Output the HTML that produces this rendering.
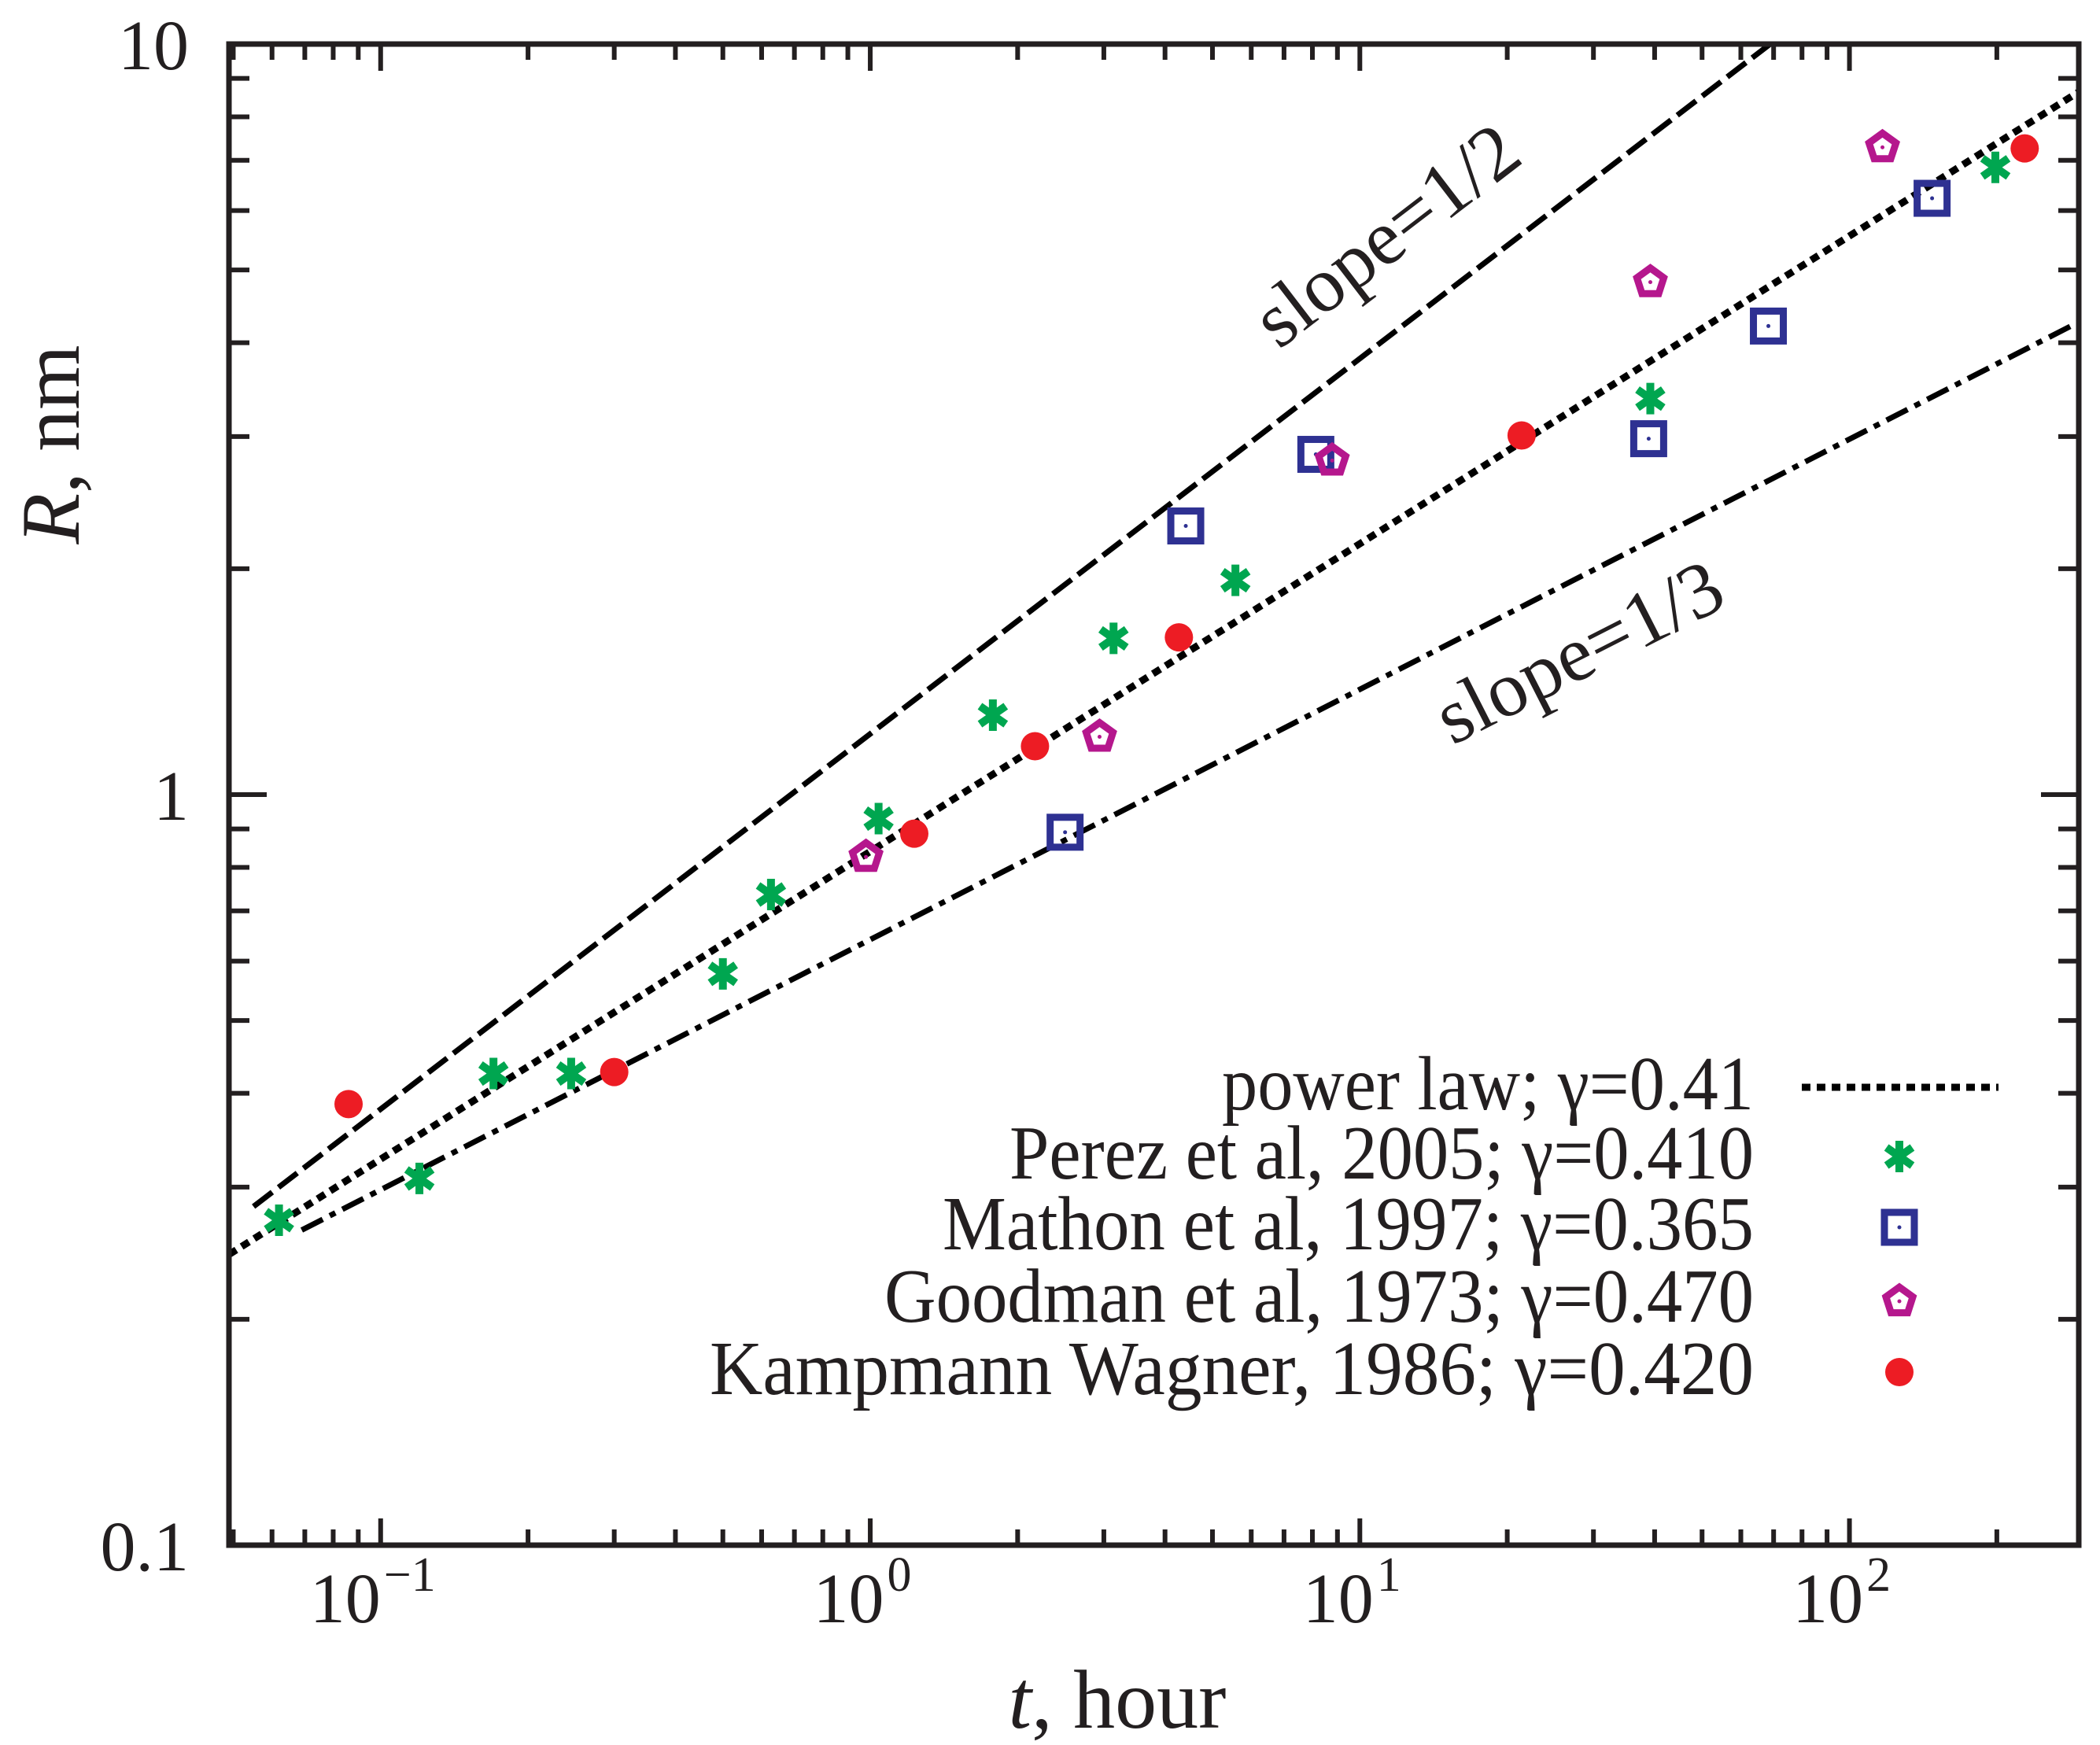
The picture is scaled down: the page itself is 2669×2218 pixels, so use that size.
<!DOCTYPE html>
<html><head><meta charset="utf-8"><style>
html,body{margin:0;padding:0;background:#fff}
svg{display:block}
text{font-family:"Liberation Serif",serif;fill:#231f20}
</style></head><body>
<svg id="chart" width="2669" height="2218" viewBox="0 0 2669 2218" xmlns="http://www.w3.org/2000/svg">
<g id="marks"></g>
<g id="axes"></g>
</svg>
<script>
// data
const perezT = [0.062,0.12,0.17,0.245,0.50,0.627,1.04,1.78,3.14,5.57,39.2,198.6];
const perezR = [0.271,0.308,0.425,0.425,0.577,0.736,0.929,1.276,1.615,1.93,3.37,6.85];
const mathonT = [2.5,4.41,8.13,38.9,68.3,147.5];
const mathonR = [0.891,2.28,2.84,2.98,4.21,6.23];
const goodT = [0.98,2.94,8.78,39.2,116.8];
const goodR = [0.83,1.20,2.80,4.84,7.32];
const kampT = [0.086,0.30,1.23,2.17,4.27,21.4,228];
const kampR = [0.387,0.427,0.887,1.16,1.62,3.01,7.26];
const powerLaw = [0.84,0.41];   // R at t=1, exponent
const slopeHalf = [1.205,0.5];
const slopeThird = [0.641,1/3];
const xTickExps = ["\u22121","0","1","2"];
const yTickLabels = ["0.1","1","10"];
const legendLabels = ["power law;  \u03b3=0.41","Perez et al, 2005;  \u03b3=0.410","Mathon et al, 1997; \u03b3=0.365","Goodman et al, 1973; \u03b3=0.470","Kampmann  Wagner, 1986;  \u03b3=0.420"];

const NS="http://www.w3.org/2000/svg";
const L=291,R=2642,T=56,B=1964;
const xmin=Math.log10(0.049),xmax=Math.log10(294);
const X=t=>L+(Math.log10(t)-xmin)/(xmax-xmin)*(R-L);
const Y=r=>B-(Math.log10(r)+1)/2*(B-T);
const marks=document.getElementById('marks'),axes=document.getElementById('axes');
function mk(tag,attrs,parent){const e=document.createElementNS(NS,tag);for(const k in attrs)e.setAttribute(k,attrs[k]);(parent||marks).appendChild(e);return e;}

const defs=mk('defs',{},document.getElementById('chart'));
const cp=mk('clipPath',{id:'clip'},defs);mk('rect',{x:L,y:T,width:R-L,height:B-T},cp);

function fitLine(p,t0,t1,dash,w,name){
  const r=t=>p[0]*Math.pow(t,p[1]);
  const e=mk('line',{x1:X(t0),y1:Y(r(t0)),x2:X(t1),y2:Y(r(t1)),stroke:'#000','stroke-width':w,'stroke-dasharray':dash,'clip-path':'url(#clip)'});
  
  
}
fitLine(slopeHalf,0.055,300,'30 10',7,'slope-half-line');
fitLine(powerLaw,0.049,294,'11 8',9,'power-law-line');
fitLine(slopeThird,0.069,294,'30 10 8 10',7,'slope-third-line');

function star(cx,cy,parent){
  const g=mk('g',{transform:`translate(${cx},${cy})`},parent);
  for(const a of [0,55,-55])mk('line',{x1:0,y1:-20,x2:0,y2:20,stroke:'#00a650','stroke-width':10,transform:`rotate(${a})`},g);
  return g;
}
function square(cx,cy,parent){
  const g=mk('g',{},parent);
  mk('rect',{x:cx-19,y:cy-19,width:38,height:38,fill:'none',stroke:'#2e3192','stroke-width':9},g);
  mk('circle',{cx:cx,cy:cy,r:2.5,fill:'#2e3192'},g);return g;
}
function penta(cx,cy,parent){
  const g=mk('g',{},parent);let pts=[];
  for(let i=0;i<5;i++){const a=-Math.PI/2+i*2*Math.PI/5;pts.push((cx+18*Math.cos(a)).toFixed(1)+','+(cy+2+18*Math.sin(a)).toFixed(1));}
  mk('polygon',{points:pts.join(' '),fill:'none',stroke:'#b5178d','stroke-width':9,'stroke-linejoin':'miter'},g);
  mk('circle',{cx:cx,cy:cy+2,r:2.5,fill:'#b5178d'},g);return g;
}
function dot(cx,cy,parent){return mk('circle',{cx:cx,cy:cy,r:18,fill:'#ed1c24'},parent);}

perezT.forEach((t,i)=>{const e=star(X(t),Y(perezR[i]));

});
mathonT.forEach((t,i)=>{const e=square(X(t),Y(mathonR[i]));

});
goodT.forEach((t,i)=>{const e=penta(X(t),Y(goodR[i]));

});
kampT.forEach((t,i)=>{const e=dot(X(t),Y(kampR[i]));

});

const fr=mk('rect',{x:L,y:T,width:R-L,height:B-T,fill:'none',stroke:'#231f20','stroke-width':7},axes);


for(let d=-2;d<=2;d++)for(let m=1;m<10;m++){const t=m*Math.pow(10,d);const x=X(t);if(x<L+2||x>R-2)continue;const len=m===1?34:20;
  mk('line',{x1:x,y1:B,x2:x,y2:B-len,stroke:'#231f20','stroke-width':6},axes);
  mk('line',{x1:x,y1:T,x2:x,y2:T+len,stroke:'#231f20','stroke-width':6},axes);}
for(let d=-1;d<=1;d++)for(let m=1;m<10;m++){const r=m*Math.pow(10,d);const y=Y(r);if(y<T+2||y>B-2)continue;const len=m===1?48:26;
  mk('line',{x1:L,y1:y,x2:L+len,y2:y,stroke:'#231f20','stroke-width':6},axes);
  mk('line',{x1:R,y1:y,x2:R-len,y2:y,stroke:'#231f20','stroke-width':6},axes);}
xTickExps.forEach((ex,i)=>{const t=Math.pow(10,i-1);const x=X(t);
  const g=mk('text',{x:x-10,y:2062,'font-size':90,'text-anchor':'middle'},axes);
  
  
  g.textContent='10';
  const s=mk('tspan',{dx:4,dy:-40,'font-size':62},g);s.textContent=ex;});
yTickLabels.forEach((lab,i)=>{const r=Math.pow(10,i-1);
  const e=mk('text',{x:240,y:Y(r)+32,'font-size':90,'text-anchor':'end'},axes);
  
  
  e.textContent=lab;});
const xt=mk('text',{x:1420,y:2196,'font-size':106,'text-anchor':'middle'},axes);


xt.innerHTML='<tspan font-style="italic">t</tspan>, hour';
const yt=mk('text',{x:0,y:0,'font-size':106,'text-anchor':'middle',transform:'translate(100,565) rotate(-90)'},axes);


yt.innerHTML='<tspan font-style="italic">R</tspan>, nm';
const s1=mk('text',{x:0,y:0,'font-size':100,'text-anchor':'middle',transform:'translate(1782,325) rotate(-37.5)'},axes);


s1.textContent='slope=1/2';
const s2=mk('text',{x:0,y:0,'font-size':100,'text-anchor':'middle',transform:'translate(2022,858) rotate(-27)'},axes);


s2.textContent='slope=1/3';
const lw=[676,946,1031,1105,1327];
const ly=[1410,1498,1588,1680,1772];
const sym=[null,star,square,penta,dot];
legendLabels.forEach((lab,i)=>{
  const e=mk('text',{x:2229-lw[i],y:ly[i],'font-size':98,textLength:lw[i],lengthAdjust:'spacingAndGlyphs'},axes);
  
  
  e.textContent=lab;
  const cy=ly[i]-28;
  if(i===0){const l=mk('line',{x1:2290,y1:cy,x2:2540,y2:cy,stroke:'#000','stroke-width':9,'stroke-dasharray':'11 8'},axes);
    
    }
  else {const m=sym[i](2414,cy,axes);
    
    }
});
</script>
</body></html>
